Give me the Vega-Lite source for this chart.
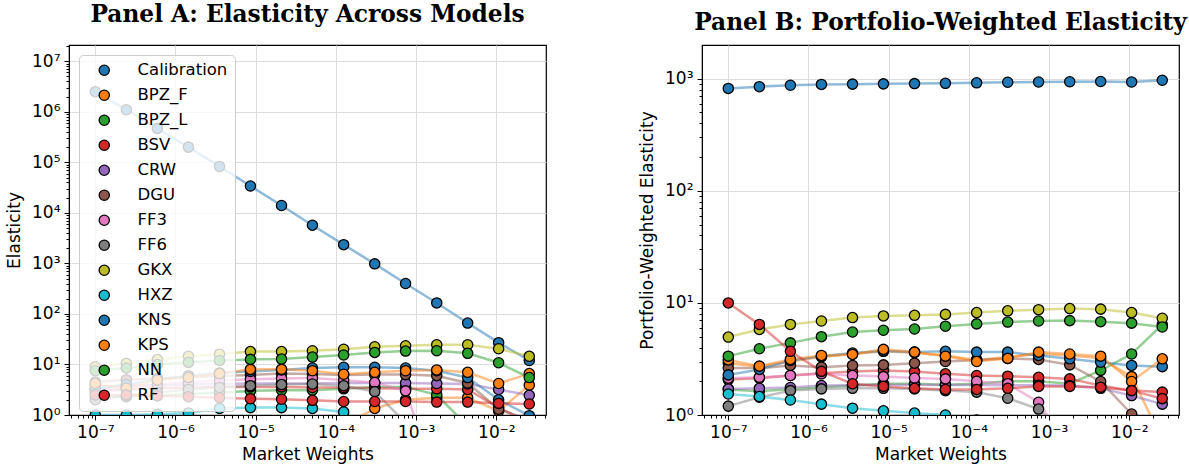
{
  "$schema": "https://vega.github.io/schema/vega-lite/v6.json",
  "padding": {"left": 4, "top": 2, "right": 6, "bottom": 5},
  "spacing": 90,
  "config": {
    "font": "DejaVu Sans",
    "view": {"stroke": "black", "strokeWidth": 1.2},
    "axis": {
      "labelFont": "DejaVu Sans",
      "labelFontSize": 17,
      "labelColor": "black",
      "titleFont": "DejaVu Sans",
      "titleFontSize": 17,
      "titleFontWeight": "normal",
      "titleColor": "black",
      "domainColor": "black",
      "tickColor": "black",
      "gridColor": "#dddddd",
      "labelOverlap": false,
      "labelFlush": false,
      "labelPadding": 4
    },
    "legend": {
      "orient": "top-left",
      "offset": 10,
      "padding": 7,
      "fillColor": "rgba(255,255,255,0.8)",
      "strokeColor": "#cccccc",
      "cornerRadius": 4,
      "labelFont": "DejaVu Sans",
      "labelFontSize": 16.5,
      "labelColor": "black",
      "labelOffset": 25,
      "symbolOffset": 10,
      "symbolSize": 105,
      "symbolStrokeColor": "black",
      "symbolStrokeWidth": 1.3,
      "rowPadding": 8
    },
    "title": {
      "font": "DejaVu Serif",
      "fontSize": 23.3,
      "fontWeight": "bold",
      "color": "black",
      "offset": 10
    }
  },
  "datasets": {
    "a": [
      {"m": "Calibration", "x": 1e-7, "y": 2500000}, {"m": "Calibration", "x": 2.44e-7, "y": 1100000}, {"m": "Calibration", "x": 5.95e-7, "y": 470000}, {"m": "Calibration", "x": 1.45e-6, "y": 200000}, {"m": "Calibration", "x": 3.54e-6, "y": 83000}, {"m": "Calibration", "x": 8.6e-6, "y": 34000}, {"m": "Calibration", "x": 2.1e-5, "y": 14000}, {"m": "Calibration", "x": 5.1e-5, "y": 5700}, {"m": "Calibration", "x": 1.25e-4, "y": 2350}, {"m": "Calibration", "x": 3.05e-4, "y": 980}, {"m": "Calibration", "x": 7.4e-4, "y": 400}, {"m": "Calibration", "x": 1.81e-3, "y": 165}, {"m": "Calibration", "x": 4.4e-3, "y": 66}, {"m": "Calibration", "x": 1.07e-2, "y": 27}, {"m": "Calibration", "x": 2.58e-2, "y": 12},
      {"m": "BPZ_F", "x": 1e-7, "y": 0.5}, {"m": "BPZ_F", "x": 2.44e-7, "y": 0.5}, {"m": "BPZ_F", "x": 5.95e-7, "y": 0.5}, {"m": "BPZ_F", "x": 1.45e-6, "y": 0.5}, {"m": "BPZ_F", "x": 3.54e-6, "y": 0.5}, {"m": "BPZ_F", "x": 8.6e-6, "y": 0.5}, {"m": "BPZ_F", "x": 2.1e-5, "y": 0.5}, {"m": "BPZ_F", "x": 5.1e-5, "y": 0.5}, {"m": "BPZ_F", "x": 1.25e-4, "y": 0.6}, {"m": "BPZ_F", "x": 3.05e-4, "y": 1.35}, {"m": "BPZ_F", "x": 7.4e-4, "y": 2.0}, {"m": "BPZ_F", "x": 1.81e-3, "y": 2.2}, {"m": "BPZ_F", "x": 4.4e-3, "y": 2.2}, {"m": "BPZ_F", "x": 1.07e-2, "y": 1.2}, {"m": "BPZ_F", "x": 2.58e-2, "y": 3.9},
      {"m": "BPZ_L", "x": 1e-7, "y": 2.3}, {"m": "BPZ_L", "x": 2.44e-7, "y": 2.3}, {"m": "BPZ_L", "x": 5.95e-7, "y": 2.4}, {"m": "BPZ_L", "x": 1.45e-6, "y": 2.6}, {"m": "BPZ_L", "x": 3.54e-6, "y": 2.8}, {"m": "BPZ_L", "x": 8.6e-6, "y": 3.0}, {"m": "BPZ_L", "x": 2.1e-5, "y": 3.1}, {"m": "BPZ_L", "x": 5.1e-5, "y": 3.1}, {"m": "BPZ_L", "x": 1.25e-4, "y": 3.3}, {"m": "BPZ_L", "x": 3.05e-4, "y": 3.6}, {"m": "BPZ_L", "x": 7.4e-4, "y": 3.6}, {"m": "BPZ_L", "x": 1.81e-3, "y": 2.5}, {"m": "BPZ_L", "x": 4.4e-3, "y": 0.6}, {"m": "BPZ_L", "x": 1.07e-2, "y": 0.4}, {"m": "BPZ_L", "x": 2.58e-2, "y": 0.4},
      {"m": "BSV", "x": 1e-7, "y": 3.0}, {"m": "BSV", "x": 2.44e-7, "y": 3.2}, {"m": "BSV", "x": 5.95e-7, "y": 3.4}, {"m": "BSV", "x": 1.45e-6, "y": 3.5}, {"m": "BSV", "x": 3.54e-6, "y": 3.6}, {"m": "BSV", "x": 8.6e-6, "y": 3.6}, {"m": "BSV", "x": 2.1e-5, "y": 3.6}, {"m": "BSV", "x": 5.1e-5, "y": 3.5}, {"m": "BSV", "x": 1.25e-4, "y": 3.5}, {"m": "BSV", "x": 3.05e-4, "y": 3.4}, {"m": "BSV", "x": 7.4e-4, "y": 3.3}, {"m": "BSV", "x": 1.81e-3, "y": 3.3}, {"m": "BSV", "x": 4.4e-3, "y": 3.2}, {"m": "BSV", "x": 1.07e-2, "y": 1.4}, {"m": "BSV", "x": 2.58e-2, "y": 0.7},
      {"m": "CRW", "x": 1e-7, "y": 3.6}, {"m": "CRW", "x": 2.44e-7, "y": 3.8}, {"m": "CRW", "x": 5.95e-7, "y": 3.9}, {"m": "CRW", "x": 1.45e-6, "y": 4.0}, {"m": "CRW", "x": 3.54e-6, "y": 4.1}, {"m": "CRW", "x": 8.6e-6, "y": 4.2}, {"m": "CRW", "x": 2.1e-5, "y": 4.2}, {"m": "CRW", "x": 5.1e-5, "y": 4.2}, {"m": "CRW", "x": 1.25e-4, "y": 4.3}, {"m": "CRW", "x": 3.05e-4, "y": 4.3}, {"m": "CRW", "x": 7.4e-4, "y": 4.3}, {"m": "CRW", "x": 1.81e-3, "y": 4.2}, {"m": "CRW", "x": 4.4e-3, "y": 4.1}, {"m": "CRW", "x": 1.07e-2, "y": 3.2}, {"m": "CRW", "x": 2.58e-2, "y": 2.45},
      {"m": "DGU", "x": 1e-7, "y": 4.5}, {"m": "DGU", "x": 2.44e-7, "y": 5.0}, {"m": "DGU", "x": 5.95e-7, "y": 5.3}, {"m": "DGU", "x": 1.45e-6, "y": 5.6}, {"m": "DGU", "x": 3.54e-6, "y": 5.9}, {"m": "DGU", "x": 8.6e-6, "y": 6.2}, {"m": "DGU", "x": 2.1e-5, "y": 6.6}, {"m": "DGU", "x": 5.1e-5, "y": 6.5}, {"m": "DGU", "x": 1.25e-4, "y": 6.2}, {"m": "DGU", "x": 3.05e-4, "y": 6.3}, {"m": "DGU", "x": 7.4e-4, "y": 6.3}, {"m": "DGU", "x": 1.81e-3, "y": 6.0}, {"m": "DGU", "x": 4.4e-3, "y": 4.3}, {"m": "DGU", "x": 1.07e-2, "y": 1.3}, {"m": "DGU", "x": 2.58e-2, "y": 0.8},
      {"m": "FF3", "x": 1e-7, "y": 3.2}, {"m": "FF3", "x": 2.44e-7, "y": 3.6}, {"m": "FF3", "x": 5.95e-7, "y": 4.0}, {"m": "FF3", "x": 1.45e-6, "y": 4.4}, {"m": "FF3", "x": 3.54e-6, "y": 4.8}, {"m": "FF3", "x": 8.6e-6, "y": 5.1}, {"m": "FF3", "x": 2.1e-5, "y": 5.3}, {"m": "FF3", "x": 5.1e-5, "y": 5.4}, {"m": "FF3", "x": 1.25e-4, "y": 4.9}, {"m": "FF3", "x": 3.05e-4, "y": 4.4}, {"m": "FF3", "x": 7.4e-4, "y": 3.0}, {"m": "FF3", "x": 1.81e-3, "y": 0.05}, {"m": "FF3", "x": 4.4e-3, "y": 0.05}, {"m": "FF3", "x": 1.07e-2, "y": 0.05}, {"m": "FF3", "x": 2.58e-2, "y": 0.05},
      {"m": "FF6", "x": 1e-7, "y": 2.0}, {"m": "FF6", "x": 2.44e-7, "y": 2.4}, {"m": "FF6", "x": 5.95e-7, "y": 2.8}, {"m": "FF6", "x": 1.45e-6, "y": 3.2}, {"m": "FF6", "x": 3.54e-6, "y": 3.5}, {"m": "FF6", "x": 8.6e-6, "y": 3.8}, {"m": "FF6", "x": 2.1e-5, "y": 4.0}, {"m": "FF6", "x": 5.1e-5, "y": 4.1}, {"m": "FF6", "x": 1.25e-4, "y": 3.8}, {"m": "FF6", "x": 3.05e-4, "y": 2.9}, {"m": "FF6", "x": 7.4e-4, "y": 0.7}, {"m": "FF6", "x": 1.81e-3, "y": 0.3}, {"m": "FF6", "x": 4.4e-3, "y": 0.2}, {"m": "FF6", "x": 1.07e-2, "y": 0.2}, {"m": "FF6", "x": 2.58e-2, "y": 0.2},
      {"m": "GKX", "x": 1e-7, "y": 9}, {"m": "GKX", "x": 2.44e-7, "y": 10.5}, {"m": "GKX", "x": 5.95e-7, "y": 12.5}, {"m": "GKX", "x": 1.45e-6, "y": 14.5}, {"m": "GKX", "x": 3.54e-6, "y": 16}, {"m": "GKX", "x": 8.6e-6, "y": 18}, {"m": "GKX", "x": 2.1e-5, "y": 18}, {"m": "GKX", "x": 5.1e-5, "y": 18.7}, {"m": "GKX", "x": 1.25e-4, "y": 20}, {"m": "GKX", "x": 3.05e-4, "y": 22.4}, {"m": "GKX", "x": 7.4e-4, "y": 23.5}, {"m": "GKX", "x": 1.81e-3, "y": 24.6}, {"m": "GKX", "x": 4.4e-3, "y": 24.6}, {"m": "GKX", "x": 1.07e-2, "y": 20.5}, {"m": "GKX", "x": 2.58e-2, "y": 14.5},
      {"m": "HXZ", "x": 1e-7, "y": 1.0}, {"m": "HXZ", "x": 2.44e-7, "y": 1.0}, {"m": "HXZ", "x": 5.95e-7, "y": 1.03}, {"m": "HXZ", "x": 1.45e-6, "y": 1.1}, {"m": "HXZ", "x": 3.54e-6, "y": 1.35}, {"m": "HXZ", "x": 8.6e-6, "y": 1.4}, {"m": "HXZ", "x": 2.1e-5, "y": 1.4}, {"m": "HXZ", "x": 5.1e-5, "y": 1.35}, {"m": "HXZ", "x": 1.25e-4, "y": 1.15}, {"m": "HXZ", "x": 3.05e-4, "y": 0.4}, {"m": "HXZ", "x": 7.4e-4, "y": 0.3}, {"m": "HXZ", "x": 1.81e-3, "y": 0.3}, {"m": "HXZ", "x": 4.4e-3, "y": 0.3}, {"m": "HXZ", "x": 1.07e-2, "y": 0.3}, {"m": "HXZ", "x": 2.58e-2, "y": 0.3},
      {"m": "KNS", "x": 1e-7, "y": 3.3}, {"m": "KNS", "x": 2.44e-7, "y": 4.0}, {"m": "KNS", "x": 5.95e-7, "y": 5.0}, {"m": "KNS", "x": 1.45e-6, "y": 6.0}, {"m": "KNS", "x": 3.54e-6, "y": 6.8}, {"m": "KNS", "x": 8.6e-6, "y": 7.3}, {"m": "KNS", "x": 2.1e-5, "y": 7.8}, {"m": "KNS", "x": 5.1e-5, "y": 8.5}, {"m": "KNS", "x": 1.25e-4, "y": 8.8}, {"m": "KNS", "x": 3.05e-4, "y": 8.8}, {"m": "KNS", "x": 7.4e-4, "y": 8.5}, {"m": "KNS", "x": 1.81e-3, "y": 7.5}, {"m": "KNS", "x": 4.4e-3, "y": 5.5}, {"m": "KNS", "x": 1.07e-2, "y": 2.0}, {"m": "KNS", "x": 2.58e-2, "y": 0.97},
      {"m": "KPS", "x": 1e-7, "y": 4.2}, {"m": "KPS", "x": 2.44e-7, "y": 3.4}, {"m": "KPS", "x": 5.95e-7, "y": 4.9}, {"m": "KPS", "x": 1.45e-6, "y": 5.5}, {"m": "KPS", "x": 3.54e-6, "y": 6.6}, {"m": "KPS", "x": 8.6e-6, "y": 8.0}, {"m": "KPS", "x": 2.1e-5, "y": 8.0}, {"m": "KPS", "x": 5.1e-5, "y": 7.5}, {"m": "KPS", "x": 1.25e-4, "y": 6.4}, {"m": "KPS", "x": 3.05e-4, "y": 7.0}, {"m": "KPS", "x": 7.4e-4, "y": 7.5}, {"m": "KPS", "x": 1.81e-3, "y": 7.8}, {"m": "KPS", "x": 4.4e-3, "y": 7.0}, {"m": "KPS", "x": 1.07e-2, "y": 4.2}, {"m": "KPS", "x": 2.58e-2, "y": 6.6},
      {"m": "NN", "x": 1e-7, "y": 7.5}, {"m": "NN", "x": 2.44e-7, "y": 8.5}, {"m": "NN", "x": 5.95e-7, "y": 10}, {"m": "NN", "x": 1.45e-6, "y": 11}, {"m": "NN", "x": 3.54e-6, "y": 12}, {"m": "NN", "x": 8.6e-6, "y": 12.6}, {"m": "NN", "x": 2.1e-5, "y": 12.8}, {"m": "NN", "x": 5.1e-5, "y": 14}, {"m": "NN", "x": 1.25e-4, "y": 15.4}, {"m": "NN", "x": 3.05e-4, "y": 17.3}, {"m": "NN", "x": 7.4e-4, "y": 18.4}, {"m": "NN", "x": 1.81e-3, "y": 18.7}, {"m": "NN", "x": 4.4e-3, "y": 16.6}, {"m": "NN", "x": 1.07e-2, "y": 10.8}, {"m": "NN", "x": 2.58e-2, "y": 5.5},
      {"m": "RF", "x": 1e-7, "y": 2.5}, {"m": "RF", "x": 2.44e-7, "y": 2.5}, {"m": "RF", "x": 5.95e-7, "y": 2.4}, {"m": "RF", "x": 1.45e-6, "y": 2.3}, {"m": "RF", "x": 3.54e-6, "y": 2.2}, {"m": "RF", "x": 8.6e-6, "y": 2.1}, {"m": "RF", "x": 2.1e-5, "y": 2.05}, {"m": "RF", "x": 5.1e-5, "y": 1.95}, {"m": "RF", "x": 1.25e-4, "y": 1.85}, {"m": "RF", "x": 3.05e-4, "y": 1.85}, {"m": "RF", "x": 7.4e-4, "y": 1.85}, {"m": "RF", "x": 1.81e-3, "y": 1.8}, {"m": "RF", "x": 4.4e-3, "y": 1.8}, {"m": "RF", "x": 1.07e-2, "y": 1.7}, {"m": "RF", "x": 2.58e-2, "y": 1.65}
    ],
    "b": [
      {"m": "Calibration", "x": 1e-7, "y": 820}, {"m": "Calibration", "x": 2.44e-7, "y": 850}, {"m": "Calibration", "x": 5.95e-7, "y": 875}, {"m": "Calibration", "x": 1.45e-6, "y": 890}, {"m": "Calibration", "x": 3.54e-6, "y": 895}, {"m": "Calibration", "x": 8.6e-6, "y": 900}, {"m": "Calibration", "x": 2.1e-5, "y": 905}, {"m": "Calibration", "x": 5.1e-5, "y": 910}, {"m": "Calibration", "x": 1.25e-4, "y": 920}, {"m": "Calibration", "x": 3.05e-4, "y": 930}, {"m": "Calibration", "x": 7.4e-4, "y": 935}, {"m": "Calibration", "x": 1.81e-3, "y": 940}, {"m": "Calibration", "x": 4.4e-3, "y": 945}, {"m": "Calibration", "x": 1.07e-2, "y": 935}, {"m": "Calibration", "x": 2.58e-2, "y": 970},
      {"m": "BPZ_F", "x": 1e-7, "y": 2.9}, {"m": "BPZ_F", "x": 2.44e-7, "y": 2.7}, {"m": "BPZ_F", "x": 5.95e-7, "y": 3.0}, {"m": "BPZ_F", "x": 1.45e-6, "y": 3.3}, {"m": "BPZ_F", "x": 3.54e-6, "y": 3.5}, {"m": "BPZ_F", "x": 8.6e-6, "y": 3.7}, {"m": "BPZ_F", "x": 2.1e-5, "y": 3.6}, {"m": "BPZ_F", "x": 5.1e-5, "y": 3.4}, {"m": "BPZ_F", "x": 1.25e-4, "y": 3.1}, {"m": "BPZ_F", "x": 3.05e-4, "y": 3.3}, {"m": "BPZ_F", "x": 7.4e-4, "y": 3.5}, {"m": "BPZ_F", "x": 1.81e-3, "y": 3.4}, {"m": "BPZ_F", "x": 4.4e-3, "y": 3.2}, {"m": "BPZ_F", "x": 1.07e-2, "y": 2.2}, {"m": "BPZ_F", "x": 2.58e-2, "y": 0.6},
      {"m": "BPZ_L", "x": 1e-7, "y": 1.69}, {"m": "BPZ_L", "x": 2.44e-7, "y": 1.63}, {"m": "BPZ_L", "x": 5.95e-7, "y": 1.7}, {"m": "BPZ_L", "x": 1.45e-6, "y": 1.77}, {"m": "BPZ_L", "x": 3.54e-6, "y": 1.83}, {"m": "BPZ_L", "x": 8.6e-6, "y": 1.9}, {"m": "BPZ_L", "x": 2.1e-5, "y": 1.9}, {"m": "BPZ_L", "x": 5.1e-5, "y": 1.86}, {"m": "BPZ_L", "x": 1.25e-4, "y": 1.9}, {"m": "BPZ_L", "x": 3.05e-4, "y": 2.0}, {"m": "BPZ_L", "x": 7.4e-4, "y": 2.0}, {"m": "BPZ_L", "x": 1.81e-3, "y": 1.9}, {"m": "BPZ_L", "x": 4.4e-3, "y": 2.5}, {"m": "BPZ_L", "x": 1.07e-2, "y": 3.5}, {"m": "BPZ_L", "x": 2.58e-2, "y": 6.4},
      {"m": "BSV", "x": 1e-7, "y": 2.07}, {"m": "BSV", "x": 2.44e-7, "y": 2.13}, {"m": "BSV", "x": 5.95e-7, "y": 2.25}, {"m": "BSV", "x": 1.45e-6, "y": 2.36}, {"m": "BSV", "x": 3.54e-6, "y": 2.44}, {"m": "BSV", "x": 8.6e-6, "y": 2.5}, {"m": "BSV", "x": 2.1e-5, "y": 2.44}, {"m": "BSV", "x": 5.1e-5, "y": 2.33}, {"m": "BSV", "x": 1.25e-4, "y": 2.25}, {"m": "BSV", "x": 3.05e-4, "y": 2.22}, {"m": "BSV", "x": 7.4e-4, "y": 2.17}, {"m": "BSV", "x": 1.81e-3, "y": 2.1}, {"m": "BSV", "x": 4.4e-3, "y": 1.83}, {"m": "BSV", "x": 1.07e-2, "y": 1.65}, {"m": "BSV", "x": 2.58e-2, "y": 1.6},
      {"m": "CRW", "x": 1e-7, "y": 1.71}, {"m": "CRW", "x": 2.44e-7, "y": 1.73}, {"m": "CRW", "x": 5.95e-7, "y": 1.76}, {"m": "CRW", "x": 1.45e-6, "y": 1.83}, {"m": "CRW", "x": 3.54e-6, "y": 1.84}, {"m": "CRW", "x": 8.6e-6, "y": 1.86}, {"m": "CRW", "x": 2.1e-5, "y": 1.86}, {"m": "CRW", "x": 5.1e-5, "y": 1.85}, {"m": "CRW", "x": 1.25e-4, "y": 1.85}, {"m": "CRW", "x": 3.05e-4, "y": 1.84}, {"m": "CRW", "x": 7.4e-4, "y": 1.84}, {"m": "CRW", "x": 1.81e-3, "y": 1.83}, {"m": "CRW", "x": 4.4e-3, "y": 1.73}, {"m": "CRW", "x": 1.07e-2, "y": 1.49}, {"m": "CRW", "x": 2.58e-2, "y": 1.25},
      {"m": "DGU", "x": 1e-7, "y": 2.62}, {"m": "DGU", "x": 2.44e-7, "y": 2.62}, {"m": "DGU", "x": 5.95e-7, "y": 2.77}, {"m": "DGU", "x": 1.45e-6, "y": 2.67}, {"m": "DGU", "x": 3.54e-6, "y": 2.77}, {"m": "DGU", "x": 8.6e-6, "y": 2.8}, {"m": "DGU", "x": 2.1e-5, "y": 2.9}, {"m": "DGU", "x": 5.1e-5, "y": 3.0}, {"m": "DGU", "x": 1.25e-4, "y": 3.1}, {"m": "DGU", "x": 3.05e-4, "y": 3.2}, {"m": "DGU", "x": 7.4e-4, "y": 3.13}, {"m": "DGU", "x": 1.81e-3, "y": 2.8}, {"m": "DGU", "x": 4.4e-3, "y": 1.99}, {"m": "DGU", "x": 1.07e-2, "y": 1.02}, {"m": "DGU", "x": 2.58e-2, "y": 0.85},
      {"m": "FF3", "x": 1e-7, "y": 2.13}, {"m": "FF3", "x": 2.44e-7, "y": 2.17}, {"m": "FF3", "x": 5.95e-7, "y": 2.25}, {"m": "FF3", "x": 1.45e-6, "y": 2.33}, {"m": "FF3", "x": 3.54e-6, "y": 2.25}, {"m": "FF3", "x": 8.6e-6, "y": 2.2}, {"m": "FF3", "x": 2.1e-5, "y": 2.14}, {"m": "FF3", "x": 5.1e-5, "y": 2.1}, {"m": "FF3", "x": 1.25e-4, "y": 2.0}, {"m": "FF3", "x": 3.05e-4, "y": 1.9}, {"m": "FF3", "x": 7.4e-4, "y": 1.3}, {"m": "FF3", "x": 1.81e-3, "y": 0.5}, {"m": "FF3", "x": 4.4e-3, "y": 0.4}, {"m": "FF3", "x": 1.07e-2, "y": 0.4}, {"m": "FF3", "x": 2.58e-2, "y": 0.4},
      {"m": "FF6", "x": 1e-7, "y": 1.2}, {"m": "FF6", "x": 2.44e-7, "y": 1.44}, {"m": "FF6", "x": 5.95e-7, "y": 1.65}, {"m": "FF6", "x": 1.45e-6, "y": 1.71}, {"m": "FF6", "x": 3.54e-6, "y": 1.73}, {"m": "FF6", "x": 8.6e-6, "y": 1.73}, {"m": "FF6", "x": 2.1e-5, "y": 1.71}, {"m": "FF6", "x": 5.1e-5, "y": 1.65}, {"m": "FF6", "x": 1.25e-4, "y": 1.6}, {"m": "FF6", "x": 3.05e-4, "y": 1.41}, {"m": "FF6", "x": 7.4e-4, "y": 1.13}, {"m": "FF6", "x": 1.81e-3, "y": 0.6}, {"m": "FF6", "x": 4.4e-3, "y": 0.5}, {"m": "FF6", "x": 1.07e-2, "y": 0.5}, {"m": "FF6", "x": 2.58e-2, "y": 0.5},
      {"m": "GKX", "x": 1e-7, "y": 4.96}, {"m": "GKX", "x": 2.44e-7, "y": 5.8}, {"m": "GKX", "x": 5.95e-7, "y": 6.43}, {"m": "GKX", "x": 1.45e-6, "y": 6.9}, {"m": "GKX", "x": 3.54e-6, "y": 7.4}, {"m": "GKX", "x": 8.6e-6, "y": 7.65}, {"m": "GKX", "x": 2.1e-5, "y": 7.75}, {"m": "GKX", "x": 5.1e-5, "y": 7.9}, {"m": "GKX", "x": 1.25e-4, "y": 8.2}, {"m": "GKX", "x": 3.05e-4, "y": 8.5}, {"m": "GKX", "x": 7.4e-4, "y": 8.7}, {"m": "GKX", "x": 1.81e-3, "y": 8.9}, {"m": "GKX", "x": 4.4e-3, "y": 8.8}, {"m": "GKX", "x": 1.07e-2, "y": 8.2}, {"m": "GKX", "x": 2.58e-2, "y": 7.3},
      {"m": "HXZ", "x": 1e-7, "y": 1.54}, {"m": "HXZ", "x": 2.44e-7, "y": 1.46}, {"m": "HXZ", "x": 5.95e-7, "y": 1.36}, {"m": "HXZ", "x": 1.45e-6, "y": 1.25}, {"m": "HXZ", "x": 3.54e-6, "y": 1.15}, {"m": "HXZ", "x": 8.6e-6, "y": 1.09}, {"m": "HXZ", "x": 2.1e-5, "y": 1.04}, {"m": "HXZ", "x": 5.1e-5, "y": 1.0}, {"m": "HXZ", "x": 1.25e-4, "y": 0.9}, {"m": "HXZ", "x": 3.05e-4, "y": 0.8}, {"m": "HXZ", "x": 7.4e-4, "y": 0.7}, {"m": "HXZ", "x": 1.81e-3, "y": 0.7}, {"m": "HXZ", "x": 4.4e-3, "y": 0.7}, {"m": "HXZ", "x": 1.07e-2, "y": 0.7}, {"m": "HXZ", "x": 2.58e-2, "y": 0.7},
      {"m": "KNS", "x": 1e-7, "y": 2.28}, {"m": "KNS", "x": 2.44e-7, "y": 2.55}, {"m": "KNS", "x": 5.95e-7, "y": 3.07}, {"m": "KNS", "x": 1.45e-6, "y": 3.35}, {"m": "KNS", "x": 3.54e-6, "y": 3.57}, {"m": "KNS", "x": 8.6e-6, "y": 3.72}, {"m": "KNS", "x": 2.1e-5, "y": 3.64}, {"m": "KNS", "x": 5.1e-5, "y": 3.7}, {"m": "KNS", "x": 1.25e-4, "y": 3.64}, {"m": "KNS", "x": 3.05e-4, "y": 3.64}, {"m": "KNS", "x": 7.4e-4, "y": 3.4}, {"m": "KNS", "x": 1.81e-3, "y": 3.17}, {"m": "KNS", "x": 4.4e-3, "y": 2.96}, {"m": "KNS", "x": 1.07e-2, "y": 2.77}, {"m": "KNS", "x": 2.58e-2, "y": 2.7},
      {"m": "KPS", "x": 1e-7, "y": 3.1}, {"m": "KPS", "x": 2.44e-7, "y": 2.73}, {"m": "KPS", "x": 5.95e-7, "y": 3.13}, {"m": "KPS", "x": 1.45e-6, "y": 3.4}, {"m": "KPS", "x": 3.54e-6, "y": 3.47}, {"m": "KPS", "x": 8.6e-6, "y": 3.85}, {"m": "KPS", "x": 2.1e-5, "y": 3.64}, {"m": "KPS", "x": 5.1e-5, "y": 3.35}, {"m": "KPS", "x": 1.25e-4, "y": 3.0}, {"m": "KPS", "x": 3.05e-4, "y": 3.2}, {"m": "KPS", "x": 7.4e-4, "y": 3.64}, {"m": "KPS", "x": 1.81e-3, "y": 3.5}, {"m": "KPS", "x": 4.4e-3, "y": 3.35}, {"m": "KPS", "x": 1.07e-2, "y": 1.99}, {"m": "KPS", "x": 2.58e-2, "y": 3.17},
      {"m": "NN", "x": 1e-7, "y": 3.35}, {"m": "NN", "x": 2.44e-7, "y": 3.9}, {"m": "NN", "x": 5.95e-7, "y": 4.4}, {"m": "NN", "x": 1.45e-6, "y": 5.0}, {"m": "NN", "x": 3.54e-6, "y": 5.5}, {"m": "NN", "x": 8.6e-6, "y": 5.7}, {"m": "NN", "x": 2.1e-5, "y": 5.85}, {"m": "NN", "x": 5.1e-5, "y": 6.2}, {"m": "NN", "x": 1.25e-4, "y": 6.5}, {"m": "NN", "x": 3.05e-4, "y": 6.75}, {"m": "NN", "x": 7.4e-4, "y": 6.9}, {"m": "NN", "x": 1.81e-3, "y": 6.95}, {"m": "NN", "x": 4.4e-3, "y": 6.8}, {"m": "NN", "x": 1.07e-2, "y": 6.6}, {"m": "NN", "x": 2.58e-2, "y": 6.1},
      {"m": "RF", "x": 1e-7, "y": 10}, {"m": "RF", "x": 2.44e-7, "y": 6.43}, {"m": "RF", "x": 5.95e-7, "y": 3.7}, {"m": "RF", "x": 1.45e-6, "y": 2.45}, {"m": "RF", "x": 3.54e-6, "y": 1.9}, {"m": "RF", "x": 8.6e-6, "y": 1.8}, {"m": "RF", "x": 2.1e-5, "y": 1.73}, {"m": "RF", "x": 5.1e-5, "y": 1.69}, {"m": "RF", "x": 1.25e-4, "y": 1.69}, {"m": "RF", "x": 3.05e-4, "y": 1.73}, {"m": "RF", "x": 7.4e-4, "y": 1.8}, {"m": "RF", "x": 1.81e-3, "y": 1.8}, {"m": "RF", "x": 4.4e-3, "y": 1.77}, {"m": "RF", "x": 1.07e-2, "y": 1.65}, {"m": "RF", "x": 2.58e-2, "y": 1.4}
    ]
  },
  "hconcat": [
    {
      "title": "Panel A: Elasticity Across Models",
      "width": 477,
      "height": 370,
      "data": {"name": "a"},
      "encoding": {
        "x": {
          "field": "x",
          "type": "quantitative",
          "scale": {"type": "log", "domain": [4.7e-8, 0.0417], "nice": false},
          "axis": {
            "title": "Market Weights",
            "values": [5e-8, 6e-8, 7e-8, 8e-8, 9e-8, 1e-7, 2e-7, 3e-7, 4e-7, 5e-7, 6e-7, 7e-7, 8e-7, 9e-7, 1e-6, 2e-6, 3e-6, 4e-6, 5e-6, 6e-6, 7e-6, 8e-6, 9e-6, 1e-5, 2e-5, 3e-5, 4e-5, 5e-5, 6e-5, 7e-5, 8e-5, 9e-5, 1e-4, 2e-4, 3e-4, 4e-4, 5e-4, 6e-4, 7e-4, 8e-4, 9e-4, 1e-3, 2e-3, 3e-3, 4e-3, 5e-3, 6e-3, 7e-3, 8e-3, 9e-3, 1e-2, 2e-2, 3e-2, 4e-2],
            "labelExpr": "abs(log(datum.value)/LN10 - round(log(datum.value)/LN10)) < 0.01 ? '10' + replace(replace(replace(replace(replace(replace(replace(replace(replace(toString(round(log(datum.value)/LN10)),'-','⁻'),'0','⁰'),'1','¹'),'2','²'),'3','³'),'4','⁴'),'5','⁵'),'6','⁶'),'7','⁷') : ''",
            "tickSize": {"condition": {"test": "abs(log(datum.value)/LN10 - round(log(datum.value)/LN10)) < 0.01", "value": 5}, "value": 3},
            "gridOpacity": {"condition": {"test": "abs(log(datum.value)/LN10 - round(log(datum.value)/LN10)) < 0.01", "value": 1}, "value": 0},
            "titlePadding": 6
          }
        },
        "y": {
          "field": "y",
          "type": "quantitative",
          "scale": {"type": "log", "domain": [1, 21000000], "nice": false},
          "axis": {
            "title": "Elasticity",
            "values": [1, 2, 3, 4, 5, 6, 7, 8, 9, 10, 20, 30, 40, 50, 60, 70, 80, 90, 100, 200, 300, 400, 500, 600, 700, 800, 900, 1000, 2000, 3000, 4000, 5000, 6000, 7000, 8000, 9000, 10000, 20000, 30000, 40000, 50000, 60000, 70000, 80000, 90000, 100000, 200000, 300000, 400000, 500000, 600000, 700000, 800000, 900000, 1000000, 2000000, 3000000, 4000000, 5000000, 6000000, 7000000, 8000000, 9000000, 10000000, 20000000],
            "labelExpr": "abs(log(datum.value)/LN10 - round(log(datum.value)/LN10)) < 0.01 ? '10' + replace(replace(replace(replace(replace(replace(replace(replace(replace(toString(round(log(datum.value)/LN10)),'-','⁻'),'0','⁰'),'1','¹'),'2','²'),'3','³'),'4','⁴'),'5','⁵'),'6','⁶'),'7','⁷') : ''",
            "tickSize": {"condition": {"test": "abs(log(datum.value)/LN10 - round(log(datum.value)/LN10)) < 0.01", "value": 5}, "value": 3},
            "gridOpacity": {"condition": {"test": "abs(log(datum.value)/LN10 - round(log(datum.value)/LN10)) < 0.01", "value": 1}, "value": 0},
            "titlePadding": 8
          }
        }
      },
      "layer": [
        {
          "mark": {"type": "line", "strokeWidth": 2.5, "opacity": 0.5, "clip": true},
          "encoding": {
            "detail": {"field": "m"},
            "stroke": {
              "field": "m",
              "type": "nominal",
              "scale": {
                "domain": ["BPZ_F", "BPZ_L", "BSV", "CRW", "Calibration", "DGU", "FF3", "FF6", "GKX", "HXZ", "KNS", "KPS", "NN", "RF"],
                "range": ["#ff7f0e", "#2ca02c", "#d62728", "#9467bd", "#1f77b4", "#8c564b", "#e377c2", "#7f7f7f", "#bcbd22", "#17becf", "#1f77b4", "#ff7f0e", "#2ca02c", "#d62728"]
              },
              "legend": null
            }
          }
        },
        {
          "mark": {"type": "point", "shape": "circle", "filled": true, "size": 105, "opacity": 1, "stroke": "black", "strokeWidth": 1.3, "clip": true},
          "encoding": {
            "fill": {
              "field": "m",
              "type": "nominal",
              "title": null,
              "scale": {
                "domain": ["Calibration", "BPZ_F", "BPZ_L", "BSV", "CRW", "DGU", "FF3", "FF6", "GKX", "HXZ", "KNS", "KPS", "NN", "RF"],
                "range": ["#1f77b4", "#ff7f0e", "#2ca02c", "#d62728", "#9467bd", "#8c564b", "#e377c2", "#7f7f7f", "#bcbd22", "#17becf", "#1f77b4", "#ff7f0e", "#2ca02c", "#d62728"]
              }
            }
          }
        }
      ]
    },
    {
      "title": "Panel B: Portfolio-Weighted Elasticity",
      "width": 477,
      "height": 370,
      "data": {"name": "b"},
      "encoding": {
        "x": {
          "field": "x",
          "type": "quantitative",
          "scale": {"type": "log", "domain": [4.7e-8, 0.0417], "nice": false},
          "axis": {
            "title": "Market Weights",
            "values": [5e-8, 6e-8, 7e-8, 8e-8, 9e-8, 1e-7, 2e-7, 3e-7, 4e-7, 5e-7, 6e-7, 7e-7, 8e-7, 9e-7, 1e-6, 2e-6, 3e-6, 4e-6, 5e-6, 6e-6, 7e-6, 8e-6, 9e-6, 1e-5, 2e-5, 3e-5, 4e-5, 5e-5, 6e-5, 7e-5, 8e-5, 9e-5, 1e-4, 2e-4, 3e-4, 4e-4, 5e-4, 6e-4, 7e-4, 8e-4, 9e-4, 1e-3, 2e-3, 3e-3, 4e-3, 5e-3, 6e-3, 7e-3, 8e-3, 9e-3, 1e-2, 2e-2, 3e-2, 4e-2],
            "labelExpr": "abs(log(datum.value)/LN10 - round(log(datum.value)/LN10)) < 0.01 ? '10' + replace(replace(replace(replace(replace(replace(replace(replace(replace(toString(round(log(datum.value)/LN10)),'-','⁻'),'0','⁰'),'1','¹'),'2','²'),'3','³'),'4','⁴'),'5','⁵'),'6','⁶'),'7','⁷') : ''",
            "tickSize": {"condition": {"test": "abs(log(datum.value)/LN10 - round(log(datum.value)/LN10)) < 0.01", "value": 5}, "value": 3},
            "gridOpacity": {"condition": {"test": "abs(log(datum.value)/LN10 - round(log(datum.value)/LN10)) < 0.01", "value": 1}, "value": 0},
            "titlePadding": 6
          }
        },
        "y": {
          "field": "y",
          "type": "quantitative",
          "scale": {"type": "log", "domain": [1, 2000], "nice": false},
          "axis": {
            "title": "Portfolio-Weighted Elasticity",
            "values": [1, 2, 3, 4, 5, 6, 7, 8, 9, 10, 20, 30, 40, 50, 60, 70, 80, 90, 100, 200, 300, 400, 500, 600, 700, 800, 900, 1000],
            "labelExpr": "abs(log(datum.value)/LN10 - round(log(datum.value)/LN10)) < 0.01 ? '10' + replace(replace(replace(replace(replace(replace(replace(replace(replace(toString(round(log(datum.value)/LN10)),'-','⁻'),'0','⁰'),'1','¹'),'2','²'),'3','³'),'4','⁴'),'5','⁵'),'6','⁶'),'7','⁷') : ''",
            "tickSize": {"condition": {"test": "abs(log(datum.value)/LN10 - round(log(datum.value)/LN10)) < 0.01", "value": 5}, "value": 3},
            "gridOpacity": {"condition": {"test": "abs(log(datum.value)/LN10 - round(log(datum.value)/LN10)) < 0.01", "value": 1}, "value": 0},
            "titlePadding": 8
          }
        }
      },
      "layer": [
        {
          "mark": {"type": "line", "strokeWidth": 2.5, "opacity": 0.5, "clip": true},
          "encoding": {
            "detail": {"field": "m"},
            "stroke": {
              "field": "m",
              "type": "nominal",
              "scale": {
                "domain": ["BPZ_F", "BPZ_L", "BSV", "CRW", "Calibration", "DGU", "FF3", "FF6", "GKX", "HXZ", "KNS", "KPS", "NN", "RF"],
                "range": ["#ff7f0e", "#2ca02c", "#d62728", "#9467bd", "#1f77b4", "#8c564b", "#e377c2", "#7f7f7f", "#bcbd22", "#17becf", "#1f77b4", "#ff7f0e", "#2ca02c", "#d62728"]
              },
              "legend": null
            }
          }
        },
        {
          "mark": {"type": "point", "shape": "circle", "filled": true, "size": 105, "opacity": 1, "stroke": "black", "strokeWidth": 1.3, "clip": true},
          "encoding": {
            "fill": {
              "field": "m",
              "type": "nominal",
              "scale": {
                "domain": ["Calibration", "BPZ_F", "BPZ_L", "BSV", "CRW", "DGU", "FF3", "FF6", "GKX", "HXZ", "KNS", "KPS", "NN", "RF"],
                "range": ["#1f77b4", "#ff7f0e", "#2ca02c", "#d62728", "#9467bd", "#8c564b", "#e377c2", "#7f7f7f", "#bcbd22", "#17becf", "#1f77b4", "#ff7f0e", "#2ca02c", "#d62728"]
              },
              "legend": null
            }
          }
        }
      ]
    }
  ],
  "resolve": {"legend": {"fill": "independent"}, "scale": {"fill": "independent", "stroke": "independent"}}
}
